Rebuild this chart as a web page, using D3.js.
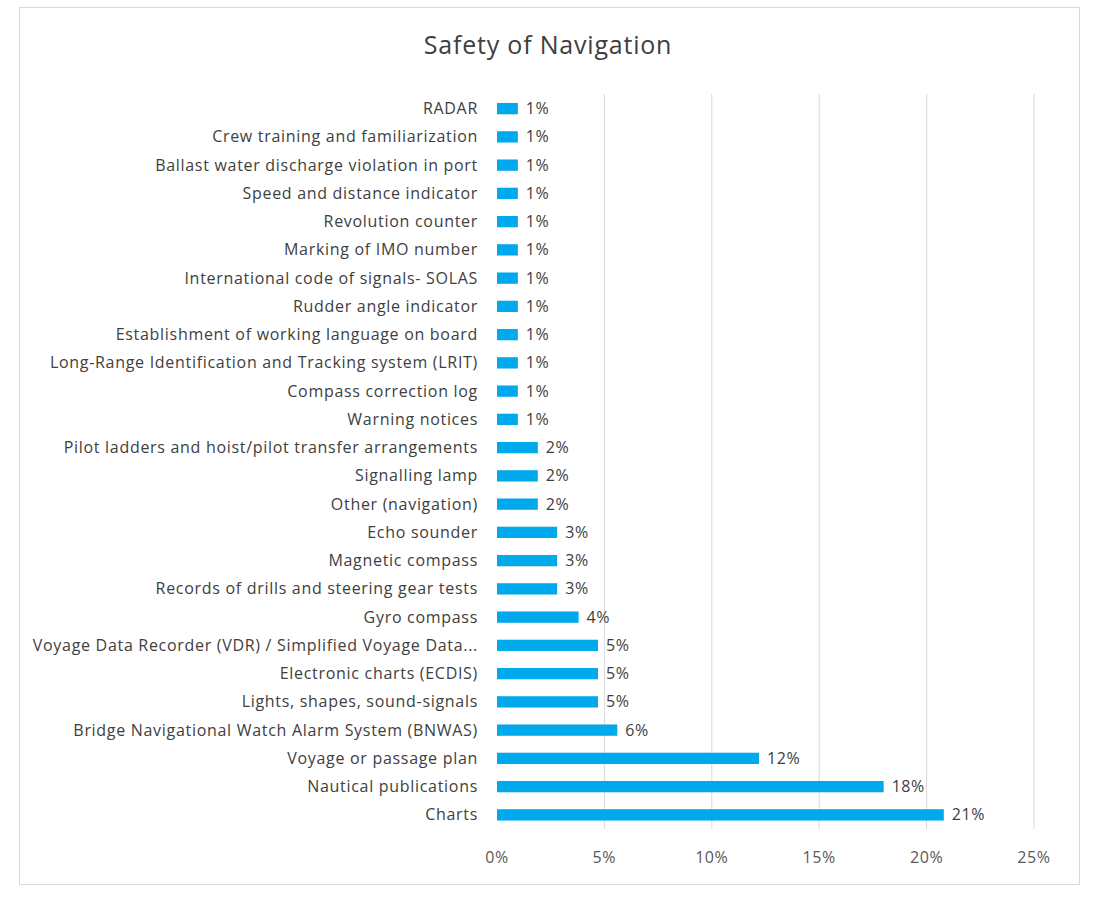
<!DOCTYPE html>
<html><head><meta charset="utf-8">
<script src="https://cdn.jsdelivr.net/npm/d3@7"></script>
<style>body{margin:0;background:#fff;font-family:"Open Sans",Arial,sans-serif}</style>
</head><body><div id="chart"></div>
<script>
const categories = [
  "RADAR","Crew training and familiarization","Ballast water discharge violation in port",
  "Speed and distance indicator","Revolution counter","Marking of IMO number",
  "International code of signals- SOLAS","Rudder angle indicator",
  "Establishment of working language on board","Long-Range Identification and Tracking system (LRIT)",
  "Compass correction log","Warning notices","Pilot ladders and hoist/pilot transfer arrangements",
  "Signalling lamp","Other (navigation)","Echo sounder","Magnetic compass",
  "Records of drills and steering gear tests","Gyro compass",
  "Voyage Data Recorder (VDR) / Simplified Voyage Data...","Electronic charts (ECDIS)",
  "Lights, shapes, sound-signals","Bridge Navigational Watch Alarm System (BNWAS)",
  "Voyage or passage plan","Nautical publications","Charts"
];
const values = [0.0097,0.0097,0.0097,0.0097,0.0097,0.0097,0.0097,0.0097,0.0097,0.0097,0.0097,0.0097,
  0.019,0.019,0.019,0.028,0.028,0.028,0.038,0.047,0.047,0.047,0.056,0.122,0.18,0.208];
const ticks = [0,0.05,0.10,0.15,0.20,0.25];

const W = 1098, H = 899;
const svg = d3.select('#chart').append('svg').attr('width', W).attr('height', H);
svg.append('rect').attr('x', 19.5).attr('y', 7.5).attr('width', 1060).attr('height', 877)
  .attr('fill', '#fff').attr('stroke', '#d9d9d9');
svg.append('text').attr('x', 548).attr('y', 54).attr('text-anchor', 'middle')
  .attr('font-size', 25).attr('letter-spacing', 0.8).attr('fill', '#404040').text('Safety of Navigation');

const x = d3.scaleLinear().domain([0, 0.25]).range([497, 1034]);
const y = d3.scaleBand().domain(categories).range([94.5, 829]).paddingInner(0.6).paddingOuter(0.3);

svg.append('g').selectAll('line').data(ticks.slice(1)).join('line')
  .attr('x1', d => x(d)).attr('x2', d => x(d)).attr('y1', 94).attr('y2', 829)
  .attr('stroke', '#d9d9d9');

svg.append('g').selectAll('text').data(ticks).join('text')
  .attr('x', d => x(d)).attr('y', 863).attr('text-anchor', 'middle')
  .attr('font-size', 16).attr('letter-spacing', 0.6).attr('fill', '#595959').text(d => Math.round(d * 100) + '%');

svg.append('g').selectAll('rect').data(values).join('rect')
  .attr('x', x(0)).attr('y', (d, i) => y(categories[i]))
  .attr('width', d => x(d) - x(0)).attr('height', y.bandwidth()).attr('fill', '#00a8ec');

svg.append('g').selectAll('text').data(values).join('text')
  .attr('x', d => x(d) + 8).attr('y', (d, i) => y(categories[i]) + y.bandwidth() / 2)
  .attr('dy', '0.35em').attr('font-size', 16).attr('letter-spacing', 0.6).attr('fill', '#404040')
  .text(d => Math.round(d * 100) + '%');

svg.append('g').selectAll('text').data(categories).join('text')
  .attr('x', 478).attr('y', d => y(d) + y.bandwidth() / 2).attr('dy', '0.35em')
  .attr('text-anchor', 'end').attr('font-size', 16).attr('letter-spacing', 0.7)
  .attr('fill', '#404040').text(d => d);
</script></body></html>
